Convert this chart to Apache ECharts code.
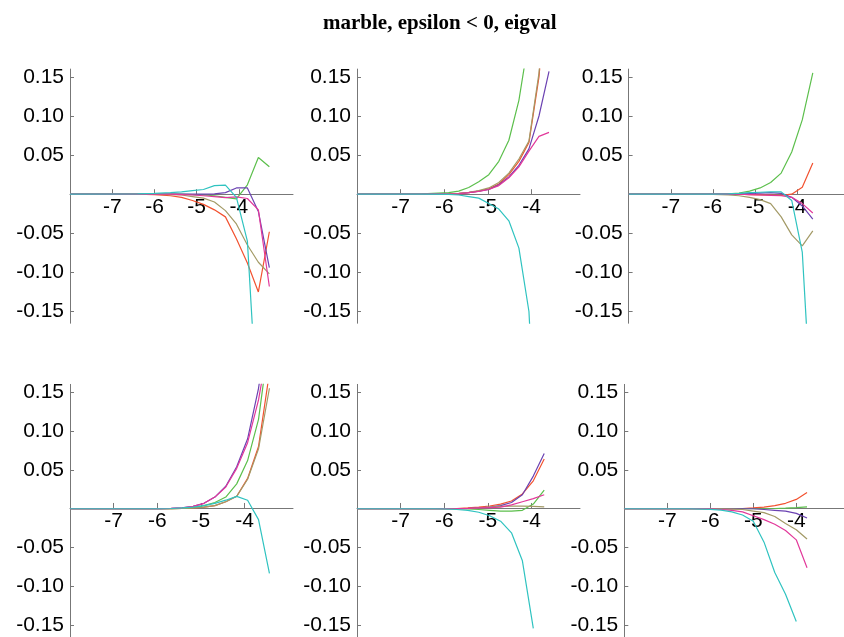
<!DOCTYPE html>
<html>
<head>
<meta charset="utf-8">
<script src="https://cdn.jsdelivr.net/npm/echarts@6/dist/echarts.min.js"></script>
<style>html,body{margin:0;padding:0;background:#fff;}#c{width:844px;height:637px;}</style>
</head>
<body>
<div id="c"></div>
<script>
// ---- data (x = log10 epsilon, y = eigval change) ----
const xTicks = [-7, -6, -5, -4];
const yTicks = [-0.15, -0.10, -0.05, 0.05, 0.10, 0.15];
const seriesNames = ['red', 'green', 'purple', 'olive', 'pink', 'cyan'];

// panel 1 (top left)
const p1x = [-8, -6.4, -6.0, -5.62, -5.36, -5.10, -4.84, -4.58, -4.32, -4.06, -3.80, -3.54, -3.28];
const p1red    = [0, 0, -0.0005, -0.002, -0.004, -0.008, -0.013, -0.020, -0.029, -0.057, -0.088, -0.125, -0.048];
const p1green  = [0, 0, 0, 0, 0, -0.0005, -0.001, -0.002, -0.004, -0.006, 0.012, 0.047, 0.035];
const p1purple = [0, 0, 0, 0, 0, 0, 0, 0.0005, 0.002, 0.008, 0.008, -0.022, -0.094];
const p1olive  = [0, 0, 0, -0.0005, -0.001, -0.003, -0.005, -0.010, -0.021, -0.038, -0.065, -0.087, -0.102];
const p1pink   = [0, 0, 0, 0, -0.0005, -0.001, -0.002, -0.003, -0.0045, -0.0035, -0.0055, -0.020, -0.118];
const p1cyan   = [0, 0.0003, 0.001, 0.002, 0.003, 0.0045, 0.006, 0.011, 0.0115, -0.004, -0.060, -0.30];

// panel 2 (top middle)
const p2x = [-8, -6.5, -5.90, -5.67, -5.44, -5.21, -4.98, -4.75, -4.52, -4.29, -4.06, -3.83, -3.60];
const p2red    = [0, 0, 0.0002, 0.0008, 0.002, 0.004, 0.007, 0.013, 0.025, 0.042, 0.066, 0.15, 0.30];
const p2green  = [0, 0.0005, 0.002, 0.004, 0.0085, 0.016, 0.025, 0.042, 0.069, 0.12, 0.20, 0.32, 0.5];
const p2purple = [0, 0, 0.0002, 0.0008, 0.002, 0.004, 0.006, 0.012, 0.022, 0.037, 0.058, 0.10, 0.157];
const p2olive  = [0, 0, 0.0003, 0.001, 0.0025, 0.0045, 0.008, 0.015, 0.027, 0.045, 0.068, 0.155, 0.31];
const p2pink   = [0, 0, 0.0002, 0.0008, 0.002, 0.0035, 0.006, 0.011, 0.021, 0.035, 0.055, 0.074, 0.079];
const p2cyan   = [0, 0, -0.0003, -0.001, -0.003, -0.005, -0.012, -0.019, -0.034, -0.069, -0.15, -0.40];

// panel 3 (top right)
const p3x = [-8, -6.5, -6.0, -5.63, -5.38, -5.13, -4.88, -4.63, -4.38, -4.13, -3.88, -3.63];
const p3red    = [0, 0, 0, 0, 0, -0.0005, -0.001, -0.001, -0.0015, 0, 0.009, 0.040];
const p3green  = [0, 0, 0, 0.0005, 0.0015, 0.004, 0.008, 0.015, 0.027, 0.054, 0.095, 0.155];
const p3purple = [0, 0, 0, 0, 0.0005, 0.001, 0.0015, 0.002, 0.001, -0.004, -0.015, -0.032];
const p3olive  = [0, 0, -0.0003, -0.001, -0.002, -0.004, -0.007, -0.012, -0.029, -0.052, -0.066, -0.047];
const p3pink   = [0, 0, 0, 0, 0, -0.0005, -0.001, -0.0015, -0.002, -0.004, -0.012, -0.024];
const p3cyan   = [0, 0, 0, 0.0005, 0.001, 0.002, 0.0025, 0.003, 0.003, -0.008, -0.074, -0.31];

// panel 4 (bottom left)
const p4x = [-8, -6.5, -6.18, -5.93, -5.68, -5.43, -5.18, -4.93, -4.68, -4.43, -4.18, -3.93, -3.68, -3.43];
const p4red    = [0, 0, 0, 0, 0.0001, 0.0004, 0.001, 0.002, 0.004, 0.009, 0.016, 0.039, 0.080, 0.175];
const p4green  = [0, 0, 0, 0, 0.0002, 0.0006, 0.0015, 0.004, 0.008, 0.015, 0.032, 0.062, 0.115, 0.22];
const p4purple = [0, 0, 0, 0.0002, 0.0005, 0.0013, 0.003, 0.007, 0.015, 0.029, 0.054, 0.090, 0.155, 0.25];
const p4olive  = [0, 0, 0, 0, 0.0001, 0.0004, 0.001, 0.002, 0.004, 0.009, 0.016, 0.038, 0.077, 0.155];
const p4pink   = [0, 0, 0, 0.0002, 0.0005, 0.0013, 0.003, 0.007, 0.015, 0.028, 0.052, 0.085, 0.14, 0.22];
const p4cyan   = [0, 0, 0, 0, 0.0003, 0.001, 0.002, 0.004, 0.007, 0.011, 0.016, 0.011, -0.014, -0.083];

// panel 5 (bottom middle)
const p5x = [-8, -6.5, -6.21, -5.96, -5.71, -5.46, -5.21, -4.96, -4.71, -4.46, -4.21, -3.96, -3.71];
const p5red    = [0, 0, 0, 0, 0.0003, 0.001, 0.002, 0.0035, 0.006, 0.010, 0.019, 0.036, 0.064];
const p5green  = [0, 0, 0, 0, 0, -0.0003, -0.001, -0.002, -0.003, -0.003, -0.002, 0.006, 0.024];
const p5purple = [0, 0, 0, 0, 0, 0.0003, 0.001, 0.002, 0.004, 0.008, 0.018, 0.042, 0.071];
const p5olive  = [0, 0, 0, 0, 0, 0.0003, 0.001, 0.002, 0.003, 0.0035, 0.0035, 0.003, 0.0025];
const p5pink   = [0, 0, 0, 0, 0.0002, 0.0005, 0.001, 0.0015, 0.002, 0.005, 0.009, 0.013, 0.018];
const p5cyan   = [0, 0, 0, -0.0003, -0.001, -0.002, -0.0045, -0.009, -0.016, -0.031, -0.067, -0.154];

// panel 6 (bottom right)
const p6x = [-8, -6.5, -6.0, -5.75, -5.5, -5.25, -5.0, -4.75, -4.5, -4.25, -4.0, -3.75];
const p6red    = [0, 0, 0, 0, 0, 0.0003, 0.001, 0.002, 0.004, 0.007, 0.012, 0.021];
const p6green  = [0, 0, 0, 0, 0, 0, 0, 0, 0.0003, 0.0008, 0.0015, 0.0025];
const p6purple = [0, 0, 0, 0, 0, 0, 0, -0.001, -0.002, -0.003, -0.006, -0.012];
const p6olive  = [0, 0, 0, 0, -0.0005, -0.001, -0.003, -0.005, -0.010, -0.019, -0.027, -0.039];
const p6pink   = [0, 0, 0, -0.001, -0.002, -0.004, -0.009, -0.014, -0.020, -0.028, -0.040, -0.076];
const p6cyan   = [0, 0, -0.0008, -0.0017, -0.004, -0.008, -0.016, -0.043, -0.082, -0.11, -0.145];

// ---- styling / layout ----
const colors = ['#f25230', '#5cbf4c', '#6b42b2', '#a39a66', '#e2389a', '#2fc3c0'];
const Y_MIN = -0.165, Y_MAX = 0.16;
const panels = [
  {x: p1x, s: [p1red, p1green, p1purple, p1olive, p1pink, p1cyan], left: 70,    zero: 194.2, xmax: -2.72, width: 223},
  {x: p2x, s: [p2red, p2green, p2purple, p2olive, p2pink, p2cyan], left: 357,   zero: 194.2, xmax: -2.89, width: 223},
  {x: p3x, s: [p3red, p3green, p3purple, p3olive, p3pink, p3cyan], left: 628.6, zero: 194.2, xmax: -2.89, width: 222.8},
  {x: p4x, s: [p4red, p4green, p4purple, p4olive, p4pink, p4cyan], left: 70,    zero: 509.5, xmax: -2.89, width: 223},
  {x: p5x, s: [p5red, p5green, p5purple, p5olive, p5pink, p5cyan], left: 357,   zero: 509.5, xmax: -2.89, width: 223},
  {x: p6x, s: [p6red, p6green, p6purple, p6olive, p6pink, p6cyan], left: 624.3, zero: 509.5, xmax: -2.89, width: 222.3}
];
const PXU = 782; // pixels per unit of y
const axisColor = '#777';
const labelFont = {fontFamily: 'Liberation Sans, Arial, sans-serif', fontSize: 21, color: '#000'};

const grid = [], xAxis = [], yAxis = [], series = [];
panels.forEach((p, i) => {
  grid.push({left: p.left, top: p.zero - Y_MAX * PXU, width: p.width, height: (Y_MAX - Y_MIN) * PXU, containLabel: false});
  xAxis.push({
    type: 'value', gridIndex: i, min: -8, max: p.xmax, interval: 1,
    position: 'bottom', offset: Y_MIN * PXU,   // puts the x axis on y = 0
    splitLine: {show: false},
    axisLine: {onZero: false, lineStyle: {color: axisColor, width: 1}},
    axisTick: {show: true, inside: true, length: 5, customValues: xTicks, lineStyle: {color: axisColor}},
    axisLabel: Object.assign({margin: 3, customValues: xTicks, formatter: v => String(Math.round(v))}, labelFont)
  });
  yAxis.push({
    type: 'value', gridIndex: i, min: Y_MIN, max: Y_MAX,
    splitLine: {show: false},
    axisLine: {onZero: false, lineStyle: {color: axisColor, width: 1}},
    axisTick: {show: true, inside: true, length: 4, customValues: yTicks, lineStyle: {color: axisColor}},
    axisLabel: Object.assign({margin: 6, customValues: yTicks, formatter: v => v.toFixed(2)}, labelFont)
  });
  p.s.forEach((ys, k) => {
    series.push({
      type: 'line', xAxisIndex: i, yAxisIndex: i, name: seriesNames[k],
      data: ys.map((y, j) => [p.x[j], y]),
      showSymbol: false, symbol: 'none', clip: true, silent: true,
      lineStyle: {color: colors[k], width: 1.2},
      z: 2 + k
    });
  });
});

const chart = echarts.init(document.getElementById('c'), null, {renderer: 'canvas'});
chart.setOption({
  animation: false,
  backgroundColor: '#fff',
  title: {
    text: 'marble, epsilon < 0, eigval', left: 318, top: 8,
    textStyle: {fontFamily: 'Liberation Serif, Times New Roman, serif', fontWeight: 'bold', fontSize: 21, color: '#000'}
  },
  grid, xAxis, yAxis, series
});
</script>
</body>
</html>
